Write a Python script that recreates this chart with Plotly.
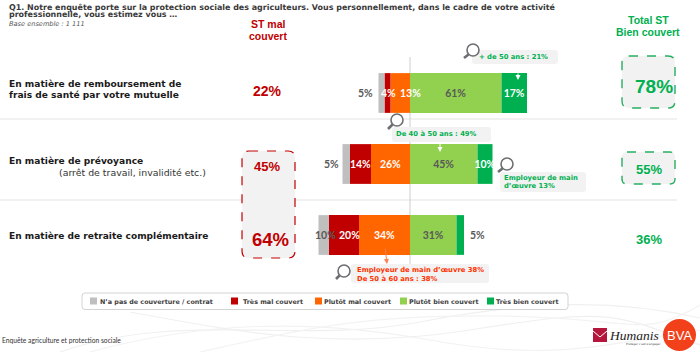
import re
import plotly.graph_objects as go

W, H = 700, 352
rows = ["En matière de remboursement de frais de santé par votre mutuelle",
        "En matière de prévoyance (arrêt de travail, invalidité etc.)",
        "En matière de retraite complémentaire"]
# drawn lengths of the segments (share points)
no_cover = [-4, -5, -7]
very_bad = [-4, -14, -20]
rather_bad = [-13, -26, -34]
rather_good = [61, 45, 31]
very_good = [17, 10, 5]
# printed labels
lab_no_cover = ["5%", "5%", "10%"]
lab_very_bad = ["", "14%", ""]
lab_rather_bad = ["", "26%", "34%"]
lab_rather_good = ["61%", "45%", "31%"]
lab_very_good = ["17%", "10%", ""]
st_bad = ["22%", "45%", "64%"]
st_good = ["78%", "55%", "36%"]
series_names = ["N’a pas de couverture / contrat", "Très mal couvert", "Plutôt mal couvert",
                "Plutôt bien couvert", "Très bien couvert"]
GREY, RED, ORANGE, LGREEN, GREEN = "#bfbfbf", "#c00000", "#ff6600", "#92d050", "#00b050"
series_colors = [GREY, RED, ORANGE, LGREEN, GREEN]
TXT = "#595959"
VERD = "DejaVu Sans"
ARIAL = "Liberation Sans"
BARF = "Lato"
BSIZE = 10.5

fig = go.Figure()
def bar(vals, idx, labels, tcol):
    fig.add_trace(go.Bar(y=rows, x=vals, orientation="h", name=series_names[idx],
                         marker=dict(color=series_colors[idx], line_width=0),
                         text=labels, textposition="inside", insidetextanchor="middle", textangle=0,
                         constraintext="none", cliponaxis=False,
                         insidetextfont=dict(family=BARF, size=BSIZE, color=tcol, weight="bold"),
                         hoverinfo="skip", width=0.56, showlegend=False))
bar(rather_bad, 2, lab_rather_bad, "white")
bar(very_bad, 1, lab_very_bad, "white")
bar(no_cover, 0, ["", "", ""], TXT)
bar(rather_good, 3, lab_rather_good, TXT)
bar(very_good, 4, lab_very_good, "white")

ann, sh = [], []
def px(x): return x / W
def py(y): return 1 - y / H
def text(x, y, s, size, color, family=VERD, bold=False, anchor="left", italic=False):
    ann.append(dict(xref="paper", yref="paper", x=px(x - 2 if anchor == "left" else x), y=py(y), text=s,
                    showarrow=False, xanchor=anchor, yanchor="middle", align=anchor,
                    font=dict(family=family, size=size, color=color, weight="bold" if bold else "normal",
                              style="italic" if italic else "normal")))
def dtext(xv, row, s, dx=0, color=TXT):
    ann.append(dict(x=xv, y=rows[row], text=s, showarrow=False, xshift=dx, yanchor="middle",
                    font=dict(family=BARF, size=BSIZE, color=color, weight="bold")))
def rrect(x0, y0, x1, y1, r, fill, line=None, dash=None, lw=1.5, layer="above"):
    X0, X1 = px(x0), px(x1); Y0, Y1 = py(y0), py(y1); rx, ry = r / W, r / H
    p = (f"M{X0+rx},{Y0} L{X1-rx},{Y0} Q{X1},{Y0} {X1},{Y0-ry} L{X1},{Y1+ry} Q{X1},{Y1} {X1-rx},{Y1} "
         f"L{X0+rx},{Y1} Q{X0},{Y1} {X0},{Y1+ry} L{X0},{Y0-ry} Q{X0},{Y0} {X0+rx},{Y0} Z")
    sh.append(dict(type="path", xref="paper", yref="paper", path=p, fillcolor=fill, layer=layer,
                   line=dict(color=line or "rgba(0,0,0,0)", width=lw if line else 0, dash=dash or "solid")))
def seg(x0, y0, x1, y1, color, w=1, layer="above"):
    sh.append(dict(type="line", xref="paper", yref="paper", x0=px(x0), y0=py(y0), x1=px(x1), y1=py(y1),
                   line=dict(color=color, width=w), layer=layer))
def glass(cx, cy, hx, hy):
    r = 6
    sh.append(dict(type="circle", xref="paper", yref="paper", x0=px(cx-r), x1=px(cx+r), y0=py(cy-r), y1=py(cy+r),
                   line=dict(color="#6d6e71", width=1.6), fillcolor="white"))
    seg(cx - 4.5, cy + 4.5, hx, hy, "#6d6e71", 2.6)
def arrow(x0, y0, x1, y1, color):
    ann.append(dict(xref="paper", yref="paper", x=px(x1), y=py(y1), ax=x0 - x1, ay=y0 - y1,
                    showarrow=True, arrowhead=2, arrowsize=1, arrowwidth=1, arrowcolor=color, text=""))

# faint background swirls at the foot of the page
for d, c in [("M60,352 C180,310 300,345 420,322 S620,300 700,318", "#f0f0f0"),
             ("M90,352 C200,322 310,318 430,340 S600,345 700,330", "#f2f2f2"),
             ("M130,312 C230,330 330,352 470,330 S610,312 700,345", "#f0f0f0"),
             ("M200,352 C300,330 360,314 500,316 S640,340 700,305", "#f3f3f3")]:
    out = []
    for t in re.findall(r"[A-Z]|[\d.]+,[\d.]+", d):
        if t.isalpha():
            out.append(t)
        else:
            a, b = t.split(",")
            out.append(f"{px(float(a)):.4f},{py(float(b)):.4f}")
    sh.append(dict(type="path", xref="paper", yref="paper", path=" ".join(out), layer="below",
                   line=dict(color=c, width=1.2)))

# separators and axis of the diverging bars
seg(0, 119, 677, 119, "#e3e3e3", 1.2, "below")
seg(0, 200, 677, 200, "#e3e3e3", 1.2, "below")
sh.append(dict(type="line", xref="x", yref="paper", x0=0, x1=0, y0=py(57), y1=py(272),
               line=dict(color="#d5d5d5", width=1.2), layer="below"))

# highlight boxes
rrect(242, 151, 295, 258, 7, "#f2f2f2", RED, "dash", 1.2, "below")
rrect(622, 56, 675, 108, 7, "#f2f2f2", "#27ae60", "dash", 1.4, "below")
rrect(622, 152, 675, 184, 5, "#f2f2f2", "#27ae60", "dash", 1.4, "below")

# callouts
rrect(472, 50, 558, 64, 3, "#f2f2f2")
rrect(392, 127, 491, 142, 3, "#f2f2f2")
rrect(500, 172, 586, 192, 3, "#f2f2f2")
rrect(351, 264, 489, 283, 3, "#f2f2f2")
glass(473, 50, 464, 58)
glass(397, 120, 388, 129)
glass(507, 164, 498, 172)
glass(344, 271, 336, 279)
arrow(518, 72, 518, 80, "white")
arrow(440, 142, 440, 152, "white")
arrow(385, 247, 387, 264, "#ff7f50")

# header text
text(9, 7.5, "Q1. Notre enquête porte sur la protection sociale des agriculteurs. Vous personnellement, dans le cadre de votre activité", 7.96, "#3a3a3a", VERD, True)
text(9, 14.5, "professionnelle, vous estimez vous …", 7.96, "#3a3a3a", VERD, True)
text(9, 24, "Base ensemble : 1 111", 6.6, "#555555", VERD, False, italic=True)
text(268, 24, "ST mal", 10.5, RED, ARIAL, True, "center")
text(268, 36, "couvert", 10.5, RED, ARIAL, True, "center")
text(648, 20, "Total ST", 10.5, "#00b050", ARIAL, True, "center")
text(648, 32, "Bien couvert", 10.5, "#00b050", ARIAL, True, "center")

# row captions
text(9, 84, "En matière de remboursement de", 9.1, "#1a1a1a", VERD, True)
text(9, 95, "frais de santé par votre mutuelle", 9.1, "#1a1a1a", VERD, True)
text(9, 161, "En matière de prévoyance", 9.1, "#1a1a1a", VERD, True)
text(59, 172.5, "(arrêt de travail, invalidité etc.)", 9.4, "#333333", VERD)
text(9, 236, "En matière de retraite complémentaire", 9.05, "#1a1a1a", VERD, True)

# summary columns
text(267, 91, st_bad[0], 14, RED, ARIAL, True, "center")
text(267, 167, st_bad[1], 13, RED, ARIAL, True, "center")
text(270, 239, st_bad[2], 18.5, RED, ARIAL, True, "center")
text(654, 86, st_good[0], 19, "#00b050", ARIAL, True, "center")
text(649, 169, st_good[1], 13, "#00b050", ARIAL, True, "center")
text(649, 239, st_good[2], 13, "#00b050", ARIAL, True, "center")

# labels placed outside or off-centre of their segments
dtext(no_cover[0] + very_bad[0] + rather_bad[0], 0, lab_no_cover[0], -13)
dtext(no_cover[1] + very_bad[1] + rather_bad[1], 1, lab_no_cover[1], -11)
dtext(no_cover[2] + very_bad[2] + rather_bad[2], 2, lab_no_cover[2], 7)
dtext(rather_good[2] + very_good[2], 2, "5%", 13)
dtext(rather_bad[0], 0, "4%", -2, "white")
dtext(0, 0, "13%", 0, "white")
dtext(rather_bad[2], 2, "20%", -10, "white")

# callout text
text(479, 56.5, "+ de 50 ans : 21%", 6.8, "#00b050", VERD, True)
text(396, 134, "De 40 à 50 ans : 49%", 6.8, "#00b050", VERD, True)
text(504, 177.5, "Employeur de main", 6.8, "#00b050", VERD, True)
text(504, 186, "d’œuvre 13%", 6.8, "#00b050", VERD, True)
text(357, 270, "Employeur de main d’œuvre 38%", 6.8, "#ff3300", VERD, True)
text(357, 279, "De 50 à 60 ans : 38%", 6.8, "#ff3300", VERD, True)

# legend and footer
rrect(82, 293, 568, 309.5, 3, "white", "#c8c8c8", None, 0.8, "below")
for name, color, sx, tx in zip(series_names, series_colors, [90, 231, 315, 400, 487], [100, 243, 324, 409, 496]):
    sh.append(dict(type="rect", xref="paper", yref="paper", x0=px(sx), x1=px(sx + 7), y0=py(297.5), y1=py(304.5),
                   fillcolor=color, line_width=0))
    text(tx, 301.5, name, 6.4, "#404040", VERD, True)
text(2, 339.5, "Enquête agriculture et protection sociale", 6.7, "#333333", "Lato")

# logos
sh.append(dict(type="rect", xref="paper", yref="paper", x0=px(593), x1=px(607), y0=py(328), y1=py(342),
               fillcolor="#b5173c", line_width=0))
seg(593, 331, 600, 337, "white", 1)
seg(607, 331, 600, 337, "white", 1)
text(609, 335, "Humanis", 13.5, "#222222", "Liberation Serif", False, italic=True)
text(626, 344, "Protéger c’est s’engager", 2.8, "#333333", VERD)
sh.append(dict(type="circle", xref="paper", yref="paper", x0=px(663), x1=px(696), y0=py(319), y1=py(351),
               fillcolor="#f2401b", line_width=0))
text(679.5, 335, "BVA", 13, "white", ARIAL, False, "center")

fig.update_layout(
    width=W, height=H, margin=dict(l=0, r=0, t=0, b=0), autosize=False,
    paper_bgcolor="white", plot_bgcolor="rgba(0,0,0,0)", barmode="relative",
    xaxis=dict(visible=False, range=[-410 / 1.5, 290 / 1.5], domain=[0, 1], fixedrange=True),
    yaxis=dict(visible=False, type="category", categoryorder="array", categoryarray=rows,
               range=[(352 - 93) / 71, -93 / 71], domain=[0, 1], fixedrange=True),
    showlegend=False,
    annotations=ann, shapes=sh,
)
fig.write_html("out.html", config=dict(displayModeBar=False),
               post_script="document.body.style.margin='0';document.body.style.overflow='hidden';")
